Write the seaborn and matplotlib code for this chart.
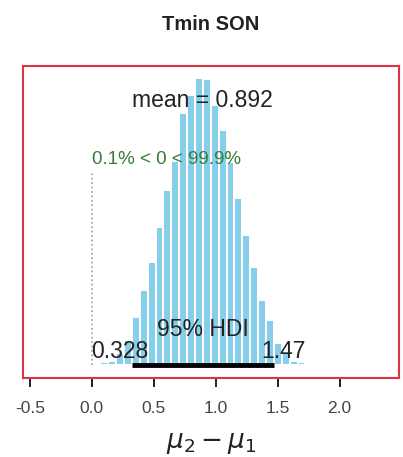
import numpy as np
import pandas as pd
import matplotlib
matplotlib.use("Agg")
import matplotlib.pyplot as plt
import seaborn as sns

# ---- data ----
title = "Tmin SON"
bin_width = 0.0637
first_edge = -0.0585
density = [0.005, 0.005, 0.015, 0.02, 0.06, 0.125, 0.24, 0.376, 0.517, 0.692,
           0.878, 1.024, 1.264, 1.355, 1.44, 1.435, 1.305, 1.179, 1.019, 0.838,
           0.652, 0.492, 0.326, 0.226, 0.11, 0.06, 0.02, 0.015, 0.005]
mean_val = 0.892
hdi = [0.328, 1.47]
comp_val = 0.0
pct_below = 0.1
pct_above = 99.9
xticks = [-0.5, 0.0, 0.5, 1.0, 1.5, 2.0]
xlim = [-0.555, 2.48]

n_bins = len(density)
centers = first_edge + bin_width * (np.arange(n_bins) + 0.5)
df = pd.DataFrame({"x": centers, "d": density})

sns.set_theme(style="white")
plt.rcParams["font.family"] = ["Liberation Sans", "DejaVu Sans"]
plt.rcParams["axes.unicode_minus"] = False

fig = plt.figure(figsize=(4.03, 4.57), dpi=100)
ax = fig.add_axes([0.057, 0.173, 0.933, 0.683])

sns.histplot(data=df, x="x", weights="d", bins=n_bins,
             binrange=(first_edge, first_edge + bin_width * n_bins), stat="count",
             color="#87CEEB", edgecolor="white", linewidth=1.4, alpha=1.0, ax=ax)

ymax = max(density)
ax.set_xlim(*xlim)
ax.set_ylim(-0.045 * ymax, 1.042 * ymax)

# HDI bar
ax.plot(hdi, [0, 0], color="black", lw=3.5, solid_capstyle="butt", zorder=5)
# comparison value line
ax.plot([comp_val, comp_val], [0, 0.672 * ymax], color="#8fa78f", lw=1.2,
        linestyle=":", zorder=4)

ax.text(mean_val, 0.9 * ymax, f"mean = {mean_val:g}", ha="center", va="baseline",
        fontsize=16.5, color="#222222", zorder=6)
ax.text(comp_val, 0.7 * ymax, f"{pct_below:g}% < {comp_val:g} < {pct_above:g}%",
        ha="left", va="baseline", fontsize=13.5, color="#3a7a3a", zorder=6)
ax.text(np.mean(hdi), 0.10 * ymax, "95% HDI", ha="center", va="baseline",
        fontsize=16.5, color="#222222", zorder=6)
ax.text(hdi[0] - 0.10, 0.025 * ymax, f"{hdi[0]:g}", ha="center", va="baseline",
        fontsize=16.5, color="#222222", zorder=6)
ax.text(hdi[1] + 0.078, 0.025 * ymax, f"{hdi[1]:g}", ha="center", va="baseline",
        fontsize=16.5, color="#222222", zorder=6)

for s in ax.spines.values():
    s.set_visible(True)
    s.set_color("#DD3344")
    s.set_linewidth(1.5)

ax.set_xticks(xticks)
ax.set_xticklabels([f"{t:.1f}" for t in xticks])
ax.set_yticks([])
ax.set_ylabel("")
ax.tick_params(axis="x", direction="out", length=6.5, width=1.2, color="black",
               pad=10, labelsize=12.5, labelcolor="#444444", bottom=True)
ax.set_xlabel(r"$\mu_2 - \mu_1$", fontsize=19, labelpad=11, color="#222222")

fig.text(0.057 + 0.933 / 2, 1 - 24.5 / 457, title, ha="center", va="center",
         fontsize=14.5, fontweight="bold", color="#222222")

fig.savefig("out.png", dpi=100)
